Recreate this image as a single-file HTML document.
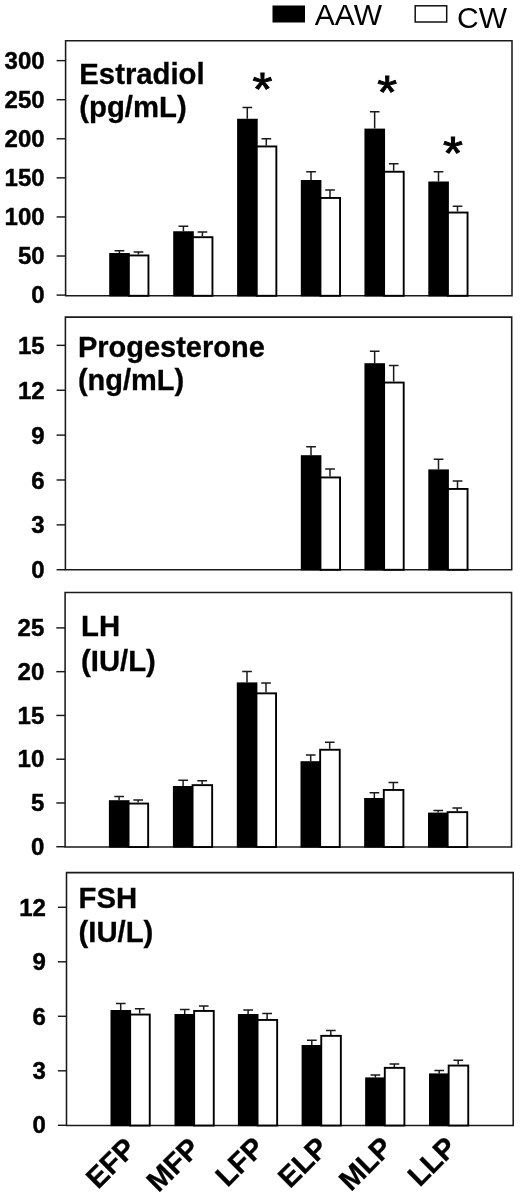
<!DOCTYPE html>
<html lang="en"><head><meta charset="utf-8"><title>Hormone levels</title>
<style>
html,body{margin:0;padding:0;background:#fff}
body{width:520px;height:1198px;overflow:hidden}
svg{display:block}
text{font-family:"Liberation Sans",Arial,sans-serif;fill:#000}
.tk{font-size:24px;font-weight:700}
.ti{font-size:29.3px;font-weight:700}
.lg{font-size:30px}
.xl{font-size:29px;font-weight:700}
.st{font-size:51px;font-weight:400}
.ti,.xl{stroke:#000;stroke-width:0.3px}
.tk{stroke:#000;stroke-width:0.45px}
.st{stroke:#000;stroke-width:1px}
</style></head><body>
<svg width="520" height="1198" viewBox="0 0 520 1198">
<rect width="520" height="1198" fill="#fff"/>
<path d="M65.6 295.8 V40.8 H512.0 V295.8 H64.90" fill="none" stroke="#1a1a1a" stroke-width="1.55"/>
<line x1="56.60" x2="65.6" y1="295.10" y2="295.10" stroke="#1a1a1a" stroke-width="1.45"/>
<text class="tk" x="44.60" y="303.20" text-anchor="end">0</text>
<line x1="56.60" x2="65.6" y1="256.02" y2="256.02" stroke="#1a1a1a" stroke-width="1.45"/>
<text class="tk" x="44.60" y="264.18" text-anchor="end">50</text>
<line x1="56.60" x2="65.6" y1="216.94" y2="216.94" stroke="#1a1a1a" stroke-width="1.45"/>
<text class="tk" x="44.60" y="225.16" text-anchor="end">100</text>
<line x1="56.60" x2="65.6" y1="177.86" y2="177.86" stroke="#1a1a1a" stroke-width="1.45"/>
<text class="tk" x="44.60" y="186.14" text-anchor="end">150</text>
<line x1="56.60" x2="65.6" y1="138.78" y2="138.78" stroke="#1a1a1a" stroke-width="1.45"/>
<text class="tk" x="44.60" y="147.12" text-anchor="end">200</text>
<line x1="56.60" x2="65.6" y1="99.70" y2="99.70" stroke="#1a1a1a" stroke-width="1.45"/>
<text class="tk" x="44.60" y="108.10" text-anchor="end">250</text>
<line x1="56.60" x2="65.6" y1="60.62" y2="60.62" stroke="#1a1a1a" stroke-width="1.45"/>
<text class="tk" x="44.60" y="69.08" text-anchor="end">300</text>
<text class="ti" x="79.3" y="84">Estradiol</text>
<text class="ti" x="79.3" y="117">(pg/mL)</text>
<path d="M119.40 253.00 V250.75 M114.60 250.75 H124.30" stroke="#1a1a1a" stroke-width="1.5" fill="none"/>
<path d="M138.40 254.50 V252.00 M133.60 252.00 H143.30" stroke="#1a1a1a" stroke-width="1.5" fill="none"/>
<rect x="109.20" y="253.00" width="20.6" height="43.40" fill="#000"/>
<rect x="128.85" y="255.45" width="19.60" height="40.35" fill="#fff" stroke="#000" stroke-width="1.9"/>
<path d="M183.40 231.25 V226.25 M178.60 226.25 H188.30" stroke="#1a1a1a" stroke-width="1.5" fill="none"/>
<path d="M202.40 236.25 V232.00 M197.60 232.00 H207.30" stroke="#1a1a1a" stroke-width="1.5" fill="none"/>
<rect x="173.20" y="231.25" width="20.6" height="65.15" fill="#000"/>
<rect x="192.85" y="237.20" width="19.60" height="58.60" fill="#fff" stroke="#000" stroke-width="1.9"/>
<path d="M247.30 118.75 V107.50 M242.50 107.50 H252.20" stroke="#1a1a1a" stroke-width="1.5" fill="none"/>
<path d="M266.30 145.50 V138.75 M261.50 138.75 H271.20" stroke="#1a1a1a" stroke-width="1.5" fill="none"/>
<rect x="237.10" y="118.75" width="20.6" height="177.65" fill="#000"/>
<rect x="256.75" y="146.45" width="19.60" height="149.35" fill="#fff" stroke="#000" stroke-width="1.9"/>
<path d="M311.00 180.00 V171.70 M306.20 171.70 H315.90" stroke="#1a1a1a" stroke-width="1.5" fill="none"/>
<path d="M330.00 197.00 V190.00 M325.20 190.00 H334.90" stroke="#1a1a1a" stroke-width="1.5" fill="none"/>
<rect x="300.80" y="180.00" width="20.6" height="116.40" fill="#000"/>
<rect x="320.45" y="197.95" width="19.60" height="97.85" fill="#fff" stroke="#000" stroke-width="1.9"/>
<path d="M374.65 128.60 V111.70 M369.85 111.70 H379.55" stroke="#1a1a1a" stroke-width="1.5" fill="none"/>
<path d="M393.65 170.80 V163.80 M388.85 163.80 H398.55" stroke="#1a1a1a" stroke-width="1.5" fill="none"/>
<rect x="364.45" y="128.60" width="20.6" height="167.80" fill="#000"/>
<rect x="384.10" y="171.75" width="19.60" height="124.05" fill="#fff" stroke="#000" stroke-width="1.9"/>
<path d="M438.50 181.50 V171.70 M433.70 171.70 H443.40" stroke="#1a1a1a" stroke-width="1.5" fill="none"/>
<path d="M457.50 211.60 V206.30 M452.70 206.30 H462.40" stroke="#1a1a1a" stroke-width="1.5" fill="none"/>
<rect x="428.30" y="181.50" width="20.6" height="114.90" fill="#000"/>
<rect x="447.95" y="212.55" width="19.60" height="83.25" fill="#fff" stroke="#000" stroke-width="1.9"/>
<path d="M65.4 569.8 V317.1 H511.7 V569.8 H64.70" fill="none" stroke="#1a1a1a" stroke-width="1.55"/>
<line x1="56.60" x2="65.4" y1="569.75" y2="569.75" stroke="#1a1a1a" stroke-width="1.45"/>
<text class="tk" x="44.60" y="578.20" text-anchor="end">0</text>
<line x1="56.60" x2="65.4" y1="524.87" y2="524.87" stroke="#1a1a1a" stroke-width="1.45"/>
<text class="tk" x="44.60" y="533.37" text-anchor="end">3</text>
<line x1="56.60" x2="65.4" y1="479.99" y2="479.99" stroke="#1a1a1a" stroke-width="1.45"/>
<text class="tk" x="44.60" y="488.54" text-anchor="end">6</text>
<line x1="56.60" x2="65.4" y1="435.11" y2="435.11" stroke="#1a1a1a" stroke-width="1.45"/>
<text class="tk" x="44.60" y="443.71" text-anchor="end">9</text>
<line x1="56.60" x2="65.4" y1="390.23" y2="390.23" stroke="#1a1a1a" stroke-width="1.45"/>
<text class="tk" x="44.60" y="398.88" text-anchor="end">12</text>
<line x1="56.60" x2="65.4" y1="345.35" y2="345.35" stroke="#1a1a1a" stroke-width="1.45"/>
<text class="tk" x="44.60" y="354.05" text-anchor="end">15</text>
<text class="ti" style="font-size:29.0px" x="77.9" y="356.8">Progesterone</text>
<text class="ti" style="font-size:29.0px" x="77.9" y="390.0">(ng/mL)</text>
<path d="M311.00 455.20 V446.80 M306.20 446.80 H315.90" stroke="#1a1a1a" stroke-width="1.5" fill="none"/>
<path d="M330.00 476.50 V469.00 M325.20 469.00 H334.90" stroke="#1a1a1a" stroke-width="1.5" fill="none"/>
<rect x="300.80" y="455.20" width="20.6" height="115.20" fill="#000"/>
<rect x="320.45" y="477.45" width="19.60" height="92.35" fill="#fff" stroke="#000" stroke-width="1.9"/>
<path d="M374.65 363.20 V351.20 M369.85 351.20 H379.55" stroke="#1a1a1a" stroke-width="1.5" fill="none"/>
<path d="M393.65 381.60 V365.60 M388.85 365.60 H398.55" stroke="#1a1a1a" stroke-width="1.5" fill="none"/>
<rect x="364.45" y="363.20" width="20.6" height="207.20" fill="#000"/>
<rect x="384.10" y="382.55" width="19.60" height="187.25" fill="#fff" stroke="#000" stroke-width="1.9"/>
<path d="M438.50 469.40 V459.20 M433.70 459.20 H443.40" stroke="#1a1a1a" stroke-width="1.5" fill="none"/>
<path d="M457.50 488.00 V481.00 M452.70 481.00 H462.40" stroke="#1a1a1a" stroke-width="1.5" fill="none"/>
<rect x="428.30" y="469.40" width="20.6" height="101.00" fill="#000"/>
<rect x="447.95" y="488.95" width="19.60" height="80.85" fill="#fff" stroke="#000" stroke-width="1.9"/>
<path d="M65.1 847 V592.5 H511.55 V847 H64.40" fill="none" stroke="#1a1a1a" stroke-width="1.55"/>
<line x1="56.30" x2="65.1" y1="846.75" y2="846.75" stroke="#1a1a1a" stroke-width="1.45"/>
<text class="tk" x="44.30" y="855.05" text-anchor="end">0</text>
<line x1="56.30" x2="65.1" y1="802.98" y2="802.98" stroke="#1a1a1a" stroke-width="1.45"/>
<text class="tk" x="44.30" y="811.27" text-anchor="end">5</text>
<line x1="56.30" x2="65.1" y1="759.21" y2="759.21" stroke="#1a1a1a" stroke-width="1.45"/>
<text class="tk" x="44.30" y="767.49" text-anchor="end">10</text>
<line x1="56.30" x2="65.1" y1="715.44" y2="715.44" stroke="#1a1a1a" stroke-width="1.45"/>
<text class="tk" x="44.30" y="723.71" text-anchor="end">15</text>
<line x1="56.30" x2="65.1" y1="671.67" y2="671.67" stroke="#1a1a1a" stroke-width="1.45"/>
<text class="tk" x="44.30" y="679.93" text-anchor="end">20</text>
<line x1="56.30" x2="65.1" y1="627.90" y2="627.90" stroke="#1a1a1a" stroke-width="1.45"/>
<text class="tk" x="44.30" y="636.15" text-anchor="end">25</text>
<text class="ti" x="81.0" y="635.8">LH</text>
<text class="ti" x="81.0" y="670.8">(IU/L)</text>
<path d="M119.10 800.20 V796.50 M114.30 796.50 H124.00" stroke="#1a1a1a" stroke-width="1.5" fill="none"/>
<path d="M138.10 802.60 V800.00 M133.30 800.00 H143.00" stroke="#1a1a1a" stroke-width="1.5" fill="none"/>
<rect x="108.90" y="800.20" width="20.6" height="47.40" fill="#000"/>
<rect x="128.55" y="803.55" width="19.60" height="43.45" fill="#fff" stroke="#000" stroke-width="1.9"/>
<path d="M183.10 786.00 V780.20 M178.30 780.20 H188.00" stroke="#1a1a1a" stroke-width="1.5" fill="none"/>
<path d="M202.10 784.20 V780.70 M197.30 780.70 H207.00" stroke="#1a1a1a" stroke-width="1.5" fill="none"/>
<rect x="172.90" y="786.00" width="20.6" height="61.60" fill="#000"/>
<rect x="192.55" y="785.15" width="19.60" height="61.85" fill="#fff" stroke="#000" stroke-width="1.9"/>
<path d="M247.00 682.40 V671.40 M242.20 671.40 H251.90" stroke="#1a1a1a" stroke-width="1.5" fill="none"/>
<path d="M266.00 692.40 V683.00 M261.20 683.00 H270.90" stroke="#1a1a1a" stroke-width="1.5" fill="none"/>
<rect x="236.80" y="682.40" width="20.6" height="165.20" fill="#000"/>
<rect x="256.45" y="693.35" width="19.60" height="153.65" fill="#fff" stroke="#000" stroke-width="1.9"/>
<path d="M310.70 761.20 V755.00 M305.90 755.00 H315.60" stroke="#1a1a1a" stroke-width="1.5" fill="none"/>
<path d="M329.70 748.80 V742.20 M324.90 742.20 H334.60" stroke="#1a1a1a" stroke-width="1.5" fill="none"/>
<rect x="300.50" y="761.20" width="20.6" height="86.40" fill="#000"/>
<rect x="320.15" y="749.75" width="19.60" height="97.25" fill="#fff" stroke="#000" stroke-width="1.9"/>
<path d="M374.35 798.00 V792.70 M369.55 792.70 H379.25" stroke="#1a1a1a" stroke-width="1.5" fill="none"/>
<path d="M393.35 789.00 V782.50 M388.55 782.50 H398.25" stroke="#1a1a1a" stroke-width="1.5" fill="none"/>
<rect x="364.15" y="798.00" width="20.6" height="49.60" fill="#000"/>
<rect x="383.80" y="789.95" width="19.60" height="57.05" fill="#fff" stroke="#000" stroke-width="1.9"/>
<path d="M438.20 812.60 V810.40 M433.40 810.40 H443.10" stroke="#1a1a1a" stroke-width="1.5" fill="none"/>
<path d="M457.20 811.20 V808.00 M452.40 808.00 H462.10" stroke="#1a1a1a" stroke-width="1.5" fill="none"/>
<rect x="428.00" y="812.60" width="20.6" height="35.00" fill="#000"/>
<rect x="447.65" y="812.15" width="19.60" height="34.85" fill="#fff" stroke="#000" stroke-width="1.9"/>
<path d="M66.5 1125.5 V872.6 H513.2 V1125.5 H65.80" fill="none" stroke="#1a1a1a" stroke-width="1.55"/>
<line x1="57.90" x2="66.5" y1="1125.30" y2="1125.30" stroke="#1a1a1a" stroke-width="1.45"/>
<text class="tk" x="45.90" y="1133.40" text-anchor="end">0</text>
<line x1="57.90" x2="66.5" y1="1070.80" y2="1070.80" stroke="#1a1a1a" stroke-width="1.45"/>
<text class="tk" x="45.90" y="1079.00" text-anchor="end">3</text>
<line x1="57.90" x2="66.5" y1="1016.30" y2="1016.30" stroke="#1a1a1a" stroke-width="1.45"/>
<text class="tk" x="45.90" y="1024.60" text-anchor="end">6</text>
<line x1="57.90" x2="66.5" y1="961.80" y2="961.80" stroke="#1a1a1a" stroke-width="1.45"/>
<text class="tk" x="45.90" y="970.20" text-anchor="end">9</text>
<line x1="57.90" x2="66.5" y1="907.30" y2="907.30" stroke="#1a1a1a" stroke-width="1.45"/>
<text class="tk" x="45.90" y="915.80" text-anchor="end">12</text>
<text class="ti" x="78.5" y="908.0">FSH</text>
<text class="ti" x="78.5" y="942.0">(IU/L)</text>
<path d="M120.70 1010.00 V1003.40 M115.90 1003.40 H125.60" stroke="#1a1a1a" stroke-width="1.5" fill="none"/>
<path d="M139.70 1013.60 V1008.80 M134.90 1008.80 H144.60" stroke="#1a1a1a" stroke-width="1.5" fill="none"/>
<rect x="110.50" y="1010.00" width="20.6" height="116.10" fill="#000"/>
<rect x="130.15" y="1014.55" width="19.60" height="110.95" fill="#fff" stroke="#000" stroke-width="1.9"/>
<path d="M184.70 1014.00 V1009.60 M179.90 1009.60 H189.60" stroke="#1a1a1a" stroke-width="1.5" fill="none"/>
<path d="M203.70 1010.00 V1006.00 M198.90 1006.00 H208.60" stroke="#1a1a1a" stroke-width="1.5" fill="none"/>
<rect x="174.50" y="1014.00" width="20.6" height="112.10" fill="#000"/>
<rect x="194.15" y="1010.95" width="19.60" height="114.55" fill="#fff" stroke="#000" stroke-width="1.9"/>
<path d="M248.10 1014.00 V1010.00 M243.30 1010.00 H253.00" stroke="#1a1a1a" stroke-width="1.5" fill="none"/>
<path d="M267.10 1019.00 V1013.60 M262.30 1013.60 H272.00" stroke="#1a1a1a" stroke-width="1.5" fill="none"/>
<rect x="237.90" y="1014.00" width="20.6" height="112.10" fill="#000"/>
<rect x="257.55" y="1019.95" width="19.60" height="105.55" fill="#fff" stroke="#000" stroke-width="1.9"/>
<path d="M311.80 1045.00 V1040.20 M307.00 1040.20 H316.70" stroke="#1a1a1a" stroke-width="1.5" fill="none"/>
<path d="M330.80 1034.90 V1030.40 M326.00 1030.40 H335.70" stroke="#1a1a1a" stroke-width="1.5" fill="none"/>
<rect x="301.60" y="1045.00" width="20.6" height="81.10" fill="#000"/>
<rect x="321.25" y="1035.85" width="19.60" height="89.65" fill="#fff" stroke="#000" stroke-width="1.9"/>
<path d="M375.35 1077.40 V1075.00 M370.55 1075.00 H380.25" stroke="#1a1a1a" stroke-width="1.5" fill="none"/>
<path d="M394.35 1066.90 V1064.00 M389.55 1064.00 H399.25" stroke="#1a1a1a" stroke-width="1.5" fill="none"/>
<rect x="365.15" y="1077.40" width="20.6" height="48.70" fill="#000"/>
<rect x="384.80" y="1067.85" width="19.60" height="57.65" fill="#fff" stroke="#000" stroke-width="1.9"/>
<path d="M439.20 1073.40 V1070.60 M434.40 1070.60 H444.10" stroke="#1a1a1a" stroke-width="1.5" fill="none"/>
<path d="M458.20 1064.60 V1060.30 M453.40 1060.30 H463.10" stroke="#1a1a1a" stroke-width="1.5" fill="none"/>
<rect x="429.00" y="1073.40" width="20.6" height="52.70" fill="#000"/>
<rect x="448.65" y="1065.55" width="19.60" height="59.95" fill="#fff" stroke="#000" stroke-width="1.9"/>
<text class="st" transform="translate(262.3 105.1) scale(1 0.92)" x="0" y="0" text-anchor="middle">*</text>
<text class="st" transform="translate(387.2 108.0) scale(1 0.92)" x="0" y="0" text-anchor="middle">*</text>
<text class="st" transform="translate(453.0 169.0) scale(1 0.92)" x="0" y="0" text-anchor="middle">*</text>
<rect x="272.5" y="5.5" width="32.5" height="17" fill="#000"/>
<rect x="415.2" y="5.8" width="31.5" height="16.2" fill="#fff" stroke="#111" stroke-width="1.5"/>
<text class="lg" x="314.8" y="25.3">AAW</text>
<text class="lg" x="457" y="27.5">CW</text>
<text class="xl" text-anchor="end" transform="translate(137.8 1150) rotate(-45)" x="0" y="0">EFP</text>
<text class="xl" text-anchor="end" transform="translate(201.8 1150) rotate(-45)" x="0" y="0">MFP</text>
<text class="xl" text-anchor="end" transform="translate(266.2 1149.3) rotate(-45)" x="0" y="0">LFP</text>
<text class="xl" text-anchor="end" transform="translate(329.9 1149.3) rotate(-45)" x="0" y="0">ELP</text>
<text class="xl" text-anchor="end" transform="translate(394.2 1149) rotate(-45)" x="0" y="0">MLP</text>
<text class="xl" text-anchor="end" transform="translate(458.5 1149) rotate(-45)" x="0" y="0">LLP</text>
</svg>
</body></html>
